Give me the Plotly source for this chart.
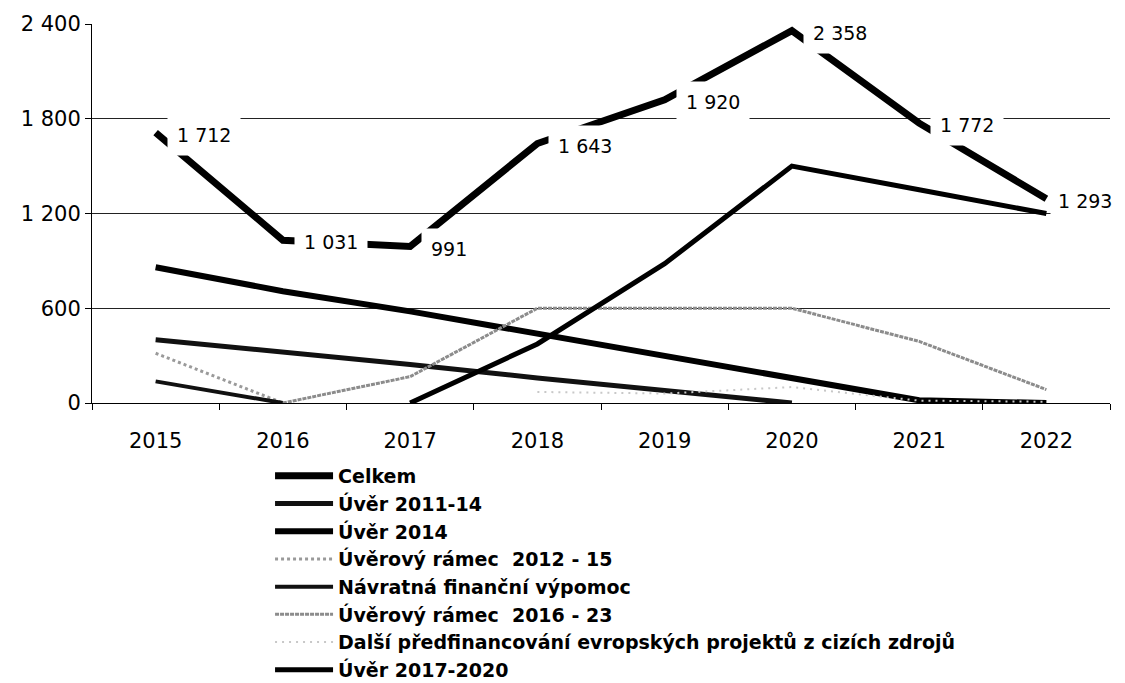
import plotly.graph_objects as go

years = ["2015", "2016", "2017", "2018", "2019", "2020", "2021", "2022"]

celkem = [1712, 1031, 991, 1643, 1920, 2358, 1772, 1293]
uver_2011_14 = [400, 323, 244, 159, 80, 0, None, None]
uver_2014 = [860, 708, 580, 440, 298, 157, 17, 0]
ramec_2012_15 = [315, 0, None, None, None, None, None, None]
navratna = [137, 0, None, None, None, None, None, None]
ramec_2016_23 = [None, 0, 167, 600, 600, 600, 390, 85]
dalsi = [None, None, None, 70, 60, 101, 15, 8]
uver_2017_2020 = [None, None, 0, 374, 882, 1500, 1350, 1200]

y_ticks = [0, 600, 1200, 1800, 2400]
y_tick_text = ["0", "600", "1 200", "1 800", "2 400"]

FONT = "DejaVu Sans"

def fmt(v):
    return f"{v:,}".replace(",", " ")

series = [
    ("Celkem", celkem, dict(color="black", width=7)),
    ("Úvěr 2011-14", uver_2011_14, dict(color="#111111", width=5)),
    ("Úvěr 2014", uver_2014, dict(color="black", width=6)),
    ("Úvěrový rámec  2012 - 15", ramec_2012_15, dict(color="#9a9a9a", width=3, dash="dot")),
    ("Návratná finanční výpomoc", navratna, dict(color="#111111", width=4)),
    ("Úvěrový rámec  2016 - 23", ramec_2016_23, dict(color="#8c8c8c", width=3, dash="4px,1px")),
    ("Další předfinancování evropských projektů z cizích zdrojů", dalsi, dict(color="#c8c8c8", width=2, dash="2px,5px")),
    ("Úvěr 2017-2020", uver_2017_2020, dict(color="black", width=5)),
]

fig = go.Figure()
order = [1, 2, 3, 4, 5, 6, 7, 0]
for i in order:
    name, vals, line = series[i]
    fig.add_trace(go.Scatter(
        x=years, y=vals, name=name, mode="lines",
        line=dict(shape="linear", **line),
        legendrank=i + 1, legendgroup=name,
        connectgaps=False, cliponaxis=False,
    ))

last = len(celkem) - 1
for idx, v in enumerate(celkem):
    fig.add_annotation(
        x=idx, y=v, text=fmt(v), showarrow=False,
        xanchor="left", yanchor="middle",
        xshift=4 if idx == last else 11, yshift=-2,
        bgcolor="white", borderpad=9 if idx != last else 7,
        font=dict(family=FONT, size=19, color="black"),
    )

fig.update_layout(
    width=1117, height=675,
    margin=dict(l=84, r=15, t=16, b=280, autoexpand=False),
    paper_bgcolor="white", plot_bgcolor="white",
    font=dict(family=FONT, size=20, color="black"),
    showlegend=True,
    legend=dict(
        orientation="v", x=0.1749, y=-0.1425, xanchor="left", yanchor="top",
        font=dict(family=FONT, size=19, color="black", weight="bold"),
        itemwidth=58, tracegroupgap=0, bgcolor="rgba(0,0,0,0)",
        traceorder="normal",
    ),
)

fig.update_xaxes(
    type="category", range=[-0.5, 7.5],
    showline=True, linecolor="black", linewidth=1,
    ticks="outside", tickson="boundaries", ticklen=6, tickcolor="black",
    showgrid=False, tickfont=dict(family=FONT, size=21),
    ticklabelstandoff=19,
)
fig.update_yaxes(
    range=[0, 2400], tickvals=y_ticks, ticktext=y_tick_text,
    showline=True, linecolor="black", linewidth=1,
    ticks="outside", ticklen=6, tickcolor="black",
    showgrid=True, gridcolor="#222222", gridwidth=1,
    zeroline=False, tickfont=dict(family=FONT, size=21),
    ticklabelstandoff=0,
)

fig.write_html("out.html")
